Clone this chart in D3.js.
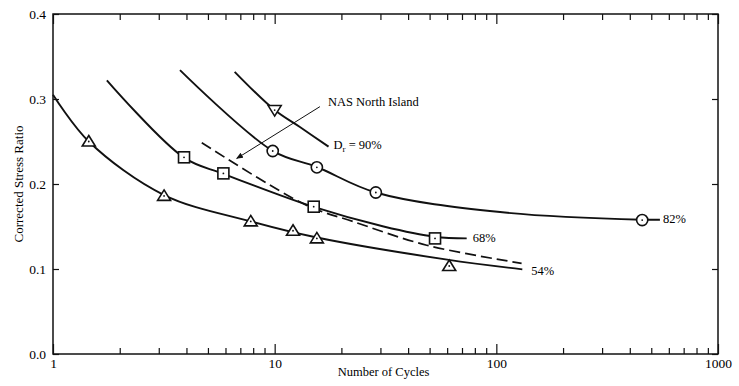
<!DOCTYPE html>
<html>
<head>
<meta charset="utf-8">
<script src="https://cdn.jsdelivr.net/npm/d3@7"></script>
<style>
  body { margin: 0; background: #fff; }
  text { font-family: "Liberation Serif", "DejaVu Serif", serif; fill: #000; }
</style>
</head>
<body>
<div id="chart"></div>
<script>
// Curve control points [cycles, stress ratio]
var curve54 = [[1, 0.305], [1.45, 0.250], [3.17, 0.187], [7.8, 0.156], [15.5, 0.137], [60, 0.111], [131, 0.0996]];
var curve68 = [[1.75, 0.322], [3.9, 0.231], [5.87, 0.212], [15, 0.173], [31, 0.150], [52.9, 0.138], [73.5, 0.136]];
var curve82 = [[3.74, 0.334], [9.8, 0.239], [15.5, 0.220], [28.6, 0.190], [104, 0.167], [455, 0.158], [547, 0.158]];
var curve90 = [[6.6, 0.332], [10, 0.287], [13, 0.267], [17.5, 0.244]];
var nasLine = [[4.69, 0.2486], [13.9, 0.175], [22.5, 0.156], [48.5, 0.128], [130, 0.1067]];

// Test points
var tri54 = [[1.45, 0.250], [3.17, 0.186], [7.8, 0.156], [12.1, 0.145], [15.5, 0.136], [61.3, 0.1035]];
var sq68 = [[3.9, 0.2314], [5.87, 0.2125], [15, 0.1733], [52.9, 0.136]];
var circ82 = [[9.8, 0.2388], [15.5, 0.2196], [28.6, 0.190], [455, 0.1576]];
var itri90 = [[10, 0.287]];

// Axis ticks
var xMajor = [1, 10, 100, 1000];
var xMinor = [2, 3, 4, 5, 6, 7, 8, 9, 20, 30, 40, 50, 60, 70, 80, 90, 200, 300, 400, 500, 600, 700, 800, 900];
var yTicks = [0.0, 0.1, 0.2, 0.3, 0.4];

// SVG size and plot box
var svgWidth = 739;
var svgHeight = 386;
var margin = { top: 14, right: 21, bottom: 32, left: 53 };
var width = svgWidth - margin.left - margin.right;
var height = svgHeight - margin.top - margin.bottom;

var svg = d3.select("#chart")
  .append("svg")
  .attr("width", svgWidth)
  .attr("height", svgHeight);

var chartGroup = svg.append("g")
  .attr("transform", `translate(${margin.left}, ${margin.top})`);

// Scales
var xScale = d3.scaleLog().domain([1, 1000]).range([0, width]);
var yScale = d3.scaleLinear().domain([0, 0.4]).range([height, 0]);

// Frame
chartGroup.append("rect")
  .attr("width", width)
  .attr("height", height)
  .attr("fill", "none")
  .attr("stroke", "#111")
  .attr("stroke-width", 1.5);

// Bottom axis: minor ticks then majors with labels
chartGroup.append("g")
  .attr("class", "axis")
  .attr("transform", `translate(0, ${height})`)
  .call(d3.axisBottom(xScale).tickValues(xMinor).tickSize(-6).tickFormat(""));

chartGroup.append("g")
  .attr("class", "axis")
  .attr("transform", `translate(0, ${height})`)
  .call(d3.axisBottom(xScale).tickValues(xMajor).tickSize(-10).tickPadding(4).tickFormat(d3.format("d")));

// Top axis ticks
chartGroup.append("g")
  .attr("class", "axis")
  .call(d3.axisTop(xScale).tickValues(xMinor).tickSize(-6).tickFormat(""));
chartGroup.append("g")
  .attr("class", "axis")
  .call(d3.axisTop(xScale).tickValues(xMajor).tickSize(-10).tickFormat(""));

// Left axis
chartGroup.append("g")
  .attr("class", "axis")
  .call(d3.axisLeft(yScale).tickValues(yTicks).tickSize(-6).tickPadding(7).tickFormat(d3.format(".1f")));

// Right axis ticks
chartGroup.append("g")
  .attr("class", "axis")
  .attr("transform", `translate(${width}, 0)`)
  .call(d3.axisRight(yScale).tickValues(yTicks).tickSize(-6).tickFormat(""));

chartGroup.selectAll(".axis path").remove();
chartGroup.selectAll(".axis line").attr("stroke", "#111").attr("stroke-width", 1.2);
chartGroup.selectAll(".axis text")
  .style("font-family", "'Liberation Serif', serif")
  .style("font-size", "13.5px")
  .attr("fill", "#000");

// Curves
var line = d3.line()
  .x(d => xScale(d[0]))
  .y(d => yScale(d[1]))
  .curve(d3.curveCatmullRom.alpha(0.5));

[curve54, curve68, curve82, curve90].forEach(function(c) {
  chartGroup.append("path")
    .datum(c)
    .attr("d", line)
    .attr("fill", "none")
    .attr("stroke", "#111")
    .attr("stroke-width", 1.9);
});

chartGroup.append("path")
  .datum(nasLine)
  .attr("d", line)
  .attr("fill", "none")
  .attr("stroke", "#111")
  .attr("stroke-width", 1.7)
  .attr("stroke-dasharray", "11,5");

// Arrow from the NAS label to the dashed line
svg.append("defs").append("marker")
  .attr("id", "arrow")
  .attr("viewBox", "0 0 10 10")
  .attr("refX", 9)
  .attr("refY", 5)
  .attr("markerWidth", 7)
  .attr("markerHeight", 7)
  .attr("orient", "auto")
  .append("path")
  .attr("d", "M0,1 L10,5 L0,9 Z")
  .attr("fill", "#111");

chartGroup.append("line")
  .attr("x1", xScale(16.0))
  .attr("y1", yScale(0.291))
  .attr("x2", xScale(6.74))
  .attr("y2", yScale(0.230))
  .attr("stroke", "#111")
  .attr("stroke-width", 1)
  .attr("marker-end", "url(#arrow)");

// Markers
function dotCenter(g) {
  g.append("circle").attr("r", 0.9).attr("fill", "#111");
}

function addMarkers(data, shape) {
  var g = chartGroup.selectAll(null)
    .data(data)
    .enter()
    .append("g")
    .attr("transform", d => `translate(${xScale(d[0])}, ${yScale(d[1])})`);
  if (shape === "circle") {
    g.append("circle").attr("r", 5.6);
  } else if (shape === "square") {
    g.append("rect").attr("x", -5.5).attr("y", -5.5).attr("width", 11).attr("height", 11);
  } else if (shape === "tri") {
    g.append("path").attr("d", "M0,-6 L6.5,4.5 L-6.5,4.5 Z");
  } else {
    g.append("path").attr("d", "M-6.5,-4.5 L6.5,-4.5 L0,6 Z");
  }
  g.selectAll("circle, rect, path")
    .attr("fill", "#fff")
    .attr("stroke", "#111")
    .attr("stroke-width", 1.6);
  dotCenter(g);
}

addMarkers(tri54, "tri");
addMarkers(sq68, "square");
addMarkers(circ82, "circle");
addMarkers(itri90, "itri");

// Curve labels
var labelStyle = function(t) {
  t.style("font-size", "12.5px").attr("dominant-baseline", "middle");
};

chartGroup.append("text")
  .attr("x", xScale(131) + 9)
  .attr("y", yScale(0.0996) + 3)
  .text("54%")
  .call(labelStyle);

chartGroup.append("text")
  .attr("x", xScale(73.5) + 6)
  .attr("y", yScale(0.136) + 1)
  .text("68%")
  .call(labelStyle);

chartGroup.append("text")
  .attr("x", xScale(547) + 3)
  .attr("y", yScale(0.158))
  .text("82%")
  .call(labelStyle);

var drText = chartGroup.append("text")
  .attr("x", xScale(17.5) + 5)
  .attr("y", yScale(0.244) - 1)
  .call(labelStyle);
drText.append("tspan").text("D");
drText.append("tspan").attr("dy", 4).style("font-size", "9px").text("r");
drText.append("tspan").attr("dy", -4).text(" = 90%");

chartGroup.append("text")
  .attr("x", xScale(16.0) + 8)
  .attr("y", yScale(0.291) - 4)
  .text("NAS North Island")
  .call(labelStyle);

// Axis titles
chartGroup.append("text")
  .attr("x", xScale(31))
  .attr("y", height + 19)
  .attr("text-anchor", "middle")
  .attr("dominant-baseline", "middle")
  .style("font-size", "12.5px")
  .text("Number of Cycles");

chartGroup.append("text")
  .attr("transform", `translate(${20 - margin.left}, ${yScale(0.2)}) rotate(-90)`)
  .attr("text-anchor", "middle")
  .attr("dominant-baseline", "middle")
  .style("font-size", "13px")
  .text("Corrected Stress Ratio");
</script>
</body>
</html>
